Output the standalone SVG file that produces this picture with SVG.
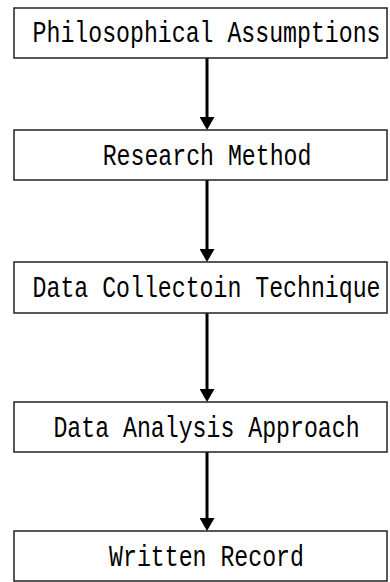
<svg xmlns="http://www.w3.org/2000/svg" width="390" height="582" viewBox="0 0 390 582">
<style>
.box{fill:#fff;stroke:#222;stroke-width:1.5}
.lbl{font-family:"Liberation Mono","DejaVu Sans Mono",monospace;font-size:23.2px;fill:#000;text-anchor:middle}
.conn{stroke:#000;stroke-width:3;fill:none}
</style>
<defs>
<marker id="ah" viewBox="0 0 13 15" markerWidth="13" markerHeight="15" markerUnits="userSpaceOnUse" refX="0" refY="7.5" orient="auto">
<path d="M0,0 L13,7.5 L0,15 z" fill="#000"/>
</marker>
</defs>
<rect width="390" height="582" fill="#fff"/>
<g id="connectors">
<line class="conn" x1="207" y1="58" x2="207" y2="117" marker-end="url(#ah)"/>
<line class="conn" x1="207" y1="180" x2="207" y2="249" marker-end="url(#ah)"/>
<line class="conn" x1="207" y1="313" x2="207" y2="389" marker-end="url(#ah)"/>
<line class="conn" x1="207" y1="452" x2="207" y2="518" marker-end="url(#ah)"/>
</g>
<g id="n1"><rect class="box" x="14" y="8" width="373" height="50"/><text class="lbl" transform="translate(206.5,42) scale(1,1.25)">Philosophical Assumptions</text></g>
<g id="n2"><rect class="box" x="14" y="130" width="373" height="50"/><text class="lbl" transform="translate(207,165) scale(1,1.25)">Research Method</text></g>
<g id="n3"><rect class="box" x="14" y="262" width="373" height="51"/><text class="lbl" transform="translate(206.5,297) scale(1,1.25)">Data Collectoin Technique</text></g>
<g id="n4"><rect class="box" x="14" y="402" width="373" height="50"/><text class="lbl" transform="translate(206.5,437) scale(1,1.25)">Data Analysis Approach</text></g>
<g id="n5"><rect class="box" x="14" y="531" width="373" height="50"/><text class="lbl" transform="translate(206.5,566) scale(1,1.25)">Written Record</text></g>
</svg>
